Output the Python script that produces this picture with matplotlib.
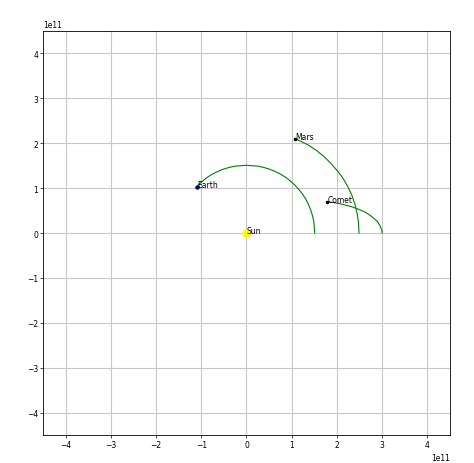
import numpy as np
import matplotlib
matplotlib.use("Agg")
import matplotlib.pyplot as plt

# orbit tracks, in units of 1e11 m
earth_x = [1.51, 1.50, 1.49, 1.46, 1.42, 1.37, 1.31, 1.24, 1.16, 1.07,
           0.97, 0.87, 0.76, 0.64, 0.52, 0.39, 0.26, 0.13, 0.00, -0.13,
           -0.26, -0.39, -0.52, -0.64, -0.76, -0.87, -0.97, -1.07, -1.10]
earth_y = [0.00, 0.13, 0.26, 0.39, 0.52, 0.64, 0.76, 0.87, 0.97, 1.07,
           1.16, 1.24, 1.31, 1.37, 1.42, 1.46, 1.49, 1.50, 1.51, 1.50,
           1.49, 1.46, 1.42, 1.37, 1.31, 1.24, 1.16, 1.07, 1.02]
mars_x = [2.49, 2.48, 2.45, 2.40, 2.33, 2.24, 2.13, 2.00, 1.86, 1.71,
          1.55, 1.37, 1.19, 1.07]
mars_y = [0.00, 0.22, 0.43, 0.64, 0.85, 1.04, 1.23, 1.40, 1.56, 1.71,
          1.84, 1.96, 2.05, 2.10]
comet_x = [3.00, 3.00, 2.98, 2.96, 2.93, 2.90, 2.85, 2.80, 2.75, 2.69,
           2.63, 2.56, 2.49, 2.41, 2.34, 2.26, 2.18, 2.11, 2.03, 1.96,
           1.88, 1.81, 1.79]
comet_y = [0.00, 0.05, 0.10, 0.155, 0.205, 0.253, 0.30, 0.344, 0.386, 0.426,
           0.463, 0.497, 0.528, 0.557, 0.583, 0.606, 0.626, 0.644, 0.660, 0.674,
           0.685, 0.694, 0.70]

bodies = ["Sun", "Earth", "Mars", "Comet"]
body_x = [0.0, -1.10, 1.07, 1.79]
body_y = [0.0, 1.02, 2.10, 0.70]
body_col = ["yellow", "navy", "black", "black"]
body_size = [5, 2.2, 1.5, 1.5]

scale = 1e11

fig = plt.figure(figsize=(4.74, 4.64), dpi=100)
ax = fig.add_axes([0.091, 0.060, 0.858, 0.871])

for xs, ys in [(earth_x, earth_y), (mars_x, mars_y), (comet_x, comet_y)]:
    ax.plot(np.array(xs) * scale, np.array(ys) * scale, color="green", lw=0.8)

for name, x, y, c, s in zip(bodies, body_x, body_y, body_col, body_size):
    ax.plot(x * scale, y * scale, "o", color=c, markersize=s)
    ax.text(x * scale, y * scale, name, fontsize=5.5)

ax.set_xlim(-4.5e11, 4.5e11)
ax.set_ylim(-4.5e11, 4.5e11)
ax.set_xticks(np.arange(-4, 5) * scale)
ax.set_yticks(np.arange(-4, 5) * scale)
ax.grid(True, color="#c8c8c8", lw=0.8)
ax.tick_params(labelsize=5.5, length=2, width=0.5, pad=1.5)
ax.xaxis.get_offset_text().set_fontsize(5.5)
ax.yaxis.get_offset_text().set_fontsize(5.5)
for sp in ax.spines.values():
    sp.set_linewidth(0.6)

fig.savefig("out.png", dpi=100)
